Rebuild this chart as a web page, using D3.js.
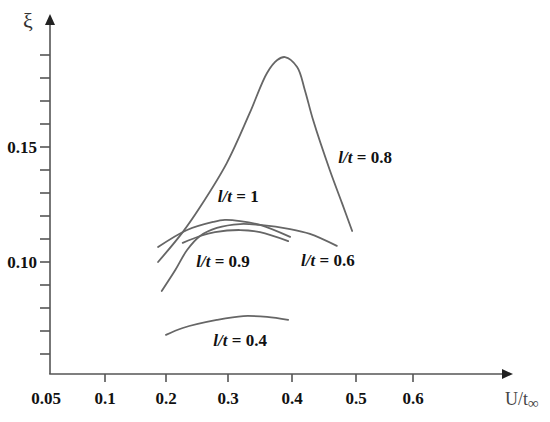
<!DOCTYPE html>
<html>
<head>
<meta charset="utf-8">
<script src="https://cdn.jsdelivr.net/npm/d3@7"></script>
<style>
  html, body { margin: 0; padding: 0; background: #fff; }
  svg { display: block; }
  text { font-family: "Liberation Serif", "Times New Roman", serif; }
</style>
</head>
<body>
<svg id="chart" width="550" height="422"></svg>
<script>
// ---- data ----
const xTickValues = [0.05, 0.1, 0.2, 0.3, 0.4, 0.5, 0.6];
const xTickLabels = ["0.05", "0.1", "0.2", "0.3", "0.4", "0.5", "0.6"];
const yMinorTicks = [0.06, 0.07, 0.08, 0.09, 0.10, 0.11, 0.12, 0.13, 0.14, 0.15, 0.16, 0.17, 0.18, 0.19];
const yTickValues = [0.10, 0.15];
const yTickLabels = ["0.10", "0.15"];

const series08 = [[0.187,0.1000],[0.227,0.1130],[0.255,0.1239],[0.298,0.1430],[0.334,0.1648],[0.361,0.1822],[0.377,0.1878],[0.389,0.1891],[0.408,0.1848],[0.420,0.1748],[0.433,0.1617],[0.459,0.1400],[0.478,0.1257],[0.494,0.1135]];
const series1  = [[0.187,0.1065],[0.234,0.1139],[0.276,0.1174],[0.295,0.1183],[0.319,0.1178],[0.350,0.1161],[0.397,0.1109]];
const series09 = [[0.227,0.1083],[0.255,0.1113],[0.279,0.1130],[0.319,0.1139],[0.350,0.1130],[0.394,0.1091]];
const series06 = [[0.193,0.0874],[0.215,0.0965],[0.234,0.1052],[0.255,0.1113],[0.282,0.1148],[0.319,0.1165],[0.350,0.1161],[0.397,0.1143],[0.428,0.1122],[0.470,0.1070]];
const series04 = [[0.200,0.0683],[0.227,0.0713],[0.282,0.0748],[0.324,0.0765],[0.361,0.0761],[0.394,0.0748]];

const seriesNames = ["0.8", "1", "0.9", "0.6", "0.4"];
const seriesData = [series08, series1, series09, series06, series04];
// label anchor points (data coords) for each series label
const labelPos = [[0.516, 0.1430], [0.316, 0.1261], [0.292, 0.0978], [0.456, 0.0983], [0.319, 0.0635]];

// ---- scales ----
const x = d3.scaleLinear().domain(xTickValues).range([50, 105, 166, 228, 292, 356, 413]);
const y = d3.scaleLinear().domain([0.10, 0.15]).range([262, 147]);

const svg = d3.select("#chart");
const axisColor = "#555";
const origin = { x: 50, y: 374 };

// axes lines
svg.append("line").attr("x1", origin.x).attr("y1", origin.y).attr("x2", origin.x).attr("y2", 22)
  .attr("stroke", axisColor).attr("stroke-width", 1.6);
svg.append("line").attr("x1", origin.x - 0.8).attr("y1", origin.y).attr("x2", 504).attr("y2", origin.y)
  .attr("stroke", axisColor).attr("stroke-width", 1.6);
// arrowheads
svg.append("path").attr("d", `M${origin.x},14 L${origin.x-5},25 L${origin.x+5},25 Z`).attr("fill", "#222");
svg.append("path").attr("d", `M513,${origin.y} L502,${origin.y-5} L502,${origin.y+5} Z`).attr("fill", "#222");

// y ticks
svg.append("g").selectAll("line").data(yMinorTicks).join("line")
  .attr("x1", 40).attr("x2", origin.x).attr("y1", d => y(d)).attr("y2", d => y(d))
  .attr("stroke", axisColor).attr("stroke-width", 1.6);
svg.append("g").selectAll("text").data(yTickValues).join("text")
  .attr("x", 37).attr("y", d => y(d) + 5.5)
  .attr("text-anchor", "end").attr("font-size", 17).attr("font-weight", "bold").attr("fill", "#111")
  .text((d, i) => yTickLabels[i]);

// x ticks
svg.append("g").selectAll("line").data(xTickValues.slice(1)).join("line")
  .attr("x1", d => x(d)).attr("x2", d => x(d)).attr("y1", origin.y).attr("y2", origin.y + 8)
  .attr("stroke", axisColor).attr("stroke-width", 1.6);
svg.append("g").selectAll("text").data(xTickValues).join("text")
  .attr("x", (d, i) => i === 0 ? x(d) - 4 : x(d)).attr("y", 404)
  .attr("text-anchor", "middle").attr("font-size", 17).attr("font-weight", "bold").attr("fill", "#111")
  .text((d, i) => xTickLabels[i]);

// axis titles
svg.append("text").attr("x", 28).attr("y", 28).attr("text-anchor", "middle")
  .attr("font-size", 22).attr("fill", "#333").text("ξ");
const xt = svg.append("text").attr("x", 505).attr("y", 405).attr("font-size", 18).attr("fill", "#444");
xt.append("tspan").text("U/t");
xt.append("tspan").attr("font-size", 15).attr("dy", 3).text("∞");

// curves
const line = d3.line().x(d => x(d[0])).y(d => y(d[1])).curve(d3.curveCatmullRom.alpha(0.5));
svg.append("g").selectAll("path").data(seriesData).join("path")
  .attr("d", line).attr("fill", "none").attr("stroke", "#666").attr("stroke-width", 1.8)
  .attr("stroke-linecap", "round");

// labels
const lab = svg.append("g").selectAll("text").data(seriesNames).join("text")
  .attr("x", (d, i) => x(labelPos[i][0])).attr("y", (d, i) => y(labelPos[i][1]))
  .attr("text-anchor", "middle").attr("font-size", 17).attr("font-weight", "bold").attr("fill", "#111");
lab.append("tspan").attr("font-style", "italic").text("l/t");
lab.append("tspan").text(d => " = " + d);
</script>
</body>
</html>
